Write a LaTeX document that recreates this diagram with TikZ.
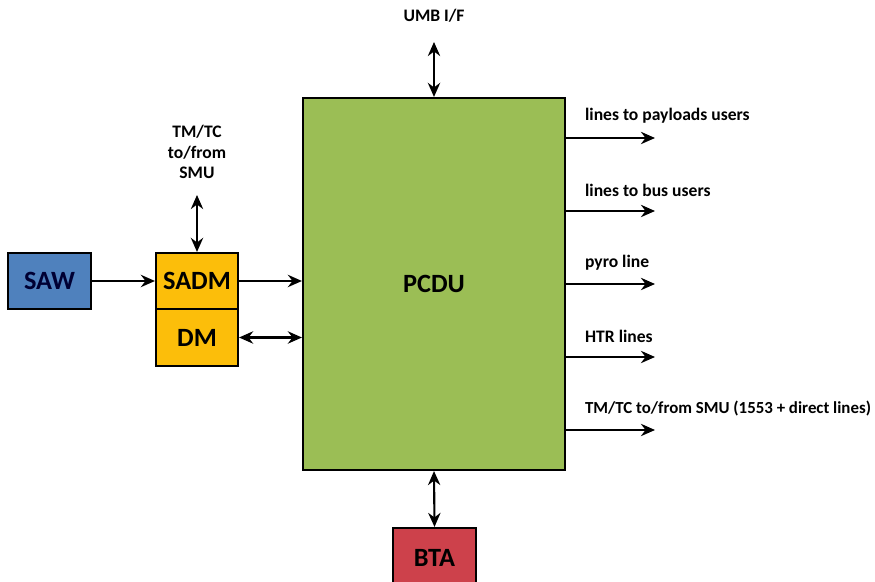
\documentclass[tikz,border=0pt]{standalone}
\usepackage{fontspec}
\setmainfont{Carlito}
\usepackage{xcolor}
\usepackage{tikz}
\usetikzlibrary{arrows.meta}
\definecolor{sawblue}{RGB}{79,129,189}
\definecolor{admorange}{RGB}{252,190,10}
\definecolor{pcdugreen}{RGB}{155,190,85}
\definecolor{btared}{RGB}{205,65,75}
\tikzset{
    block/.style={draw=black, line width=1.2pt, font=\fontsize{15}{17}\selectfont\bfseries, inner sep=0pt},
    lbl/.style={font=\fontsize{10}{11.5}\selectfont\bfseries, align=center, inner sep=1pt},
    conn/.style={line width=1.2pt, -{Stealth[length=8pt,width=7pt]}},
    biconn/.style={line width=1.2pt, {Stealth[length=8pt,width=7pt]}-{Stealth[length=8pt,width=7pt]}}
}
\begin{document}
\begin{tikzpicture}
            \useasboundingbox (0,0) rectangle (17.5,11.64);
            \clip (0,0) rectangle (17.5,11.64);
            % blocks
            \node[block, fill=sawblue, text=black!80!blue, minimum width=1.66cm, minimum height=1.12cm] (saw) at (0.99,6.02) {SAW};
            \node[block, fill=admorange, minimum width=1.64cm, minimum height=1.12cm] (sadm) at (3.94,6.02) {SADM};
            \node[block, fill=admorange, minimum width=1.64cm, minimum height=1.14cm] (dm) at (3.94,4.89) {DM};
            \node[block, fill=pcdugreen, minimum width=5.24cm, minimum height=7.44cm] (pcdu) at (8.68,5.96) {PCDU};
            \node[block, fill=btared, minimum width=1.66cm, minimum height=1.2cm] (bta) at (8.69,0.48) {BTA};
            % outer labels
            \node[lbl] (umb) at (8.68,11.32) {UMB I/F};
            \node[lbl] (smu) at (3.94,8.6) {TM/TC\\to/from\\SMU};
            \coordinate (umbend) at (8.68,10.8);
            \coordinate (smuend) at (3.94,7.74);
            % connectors
            \draw[conn] (saw.east) -- (sadm.west);
            \draw[conn] (sadm.east) -- (sadm.east -| pcdu.west);
            \draw[biconn] (dm.east) -- (dm.east -| pcdu.west);
            \draw[biconn] (smuend) -- (sadm.north);
            \draw[biconn] (umbend) -- (pcdu.north);
            \draw[biconn] (pcdu.south) -- (bta.north);
            % outputs
            \coordinate (out1) at (13.1,8.88);
            \coordinate (out2) at (13.1,7.42);
            \coordinate (out3) at (13.1,5.96);
            \coordinate (out4) at (13.1,4.50);
            \coordinate (out5) at (13.1,3.04);
            \draw[conn] (out1 -| pcdu.east) -- (out1);
            \draw[conn] (out2 -| pcdu.east) -- (out2);
            \draw[conn] (out3 -| pcdu.east) -- (out3);
            \draw[conn] (out4 -| pcdu.east) -- (out4);
            \draw[conn] (out5 -| pcdu.east) -- (out5);
            \node[lbl, anchor=west] (lpay) at (11.66,9.32) {lines to payloads users};
            \node[lbl, anchor=west] (lbus) at (11.66,7.84) {lines to bus users};
            \node[lbl, anchor=west] (lpyro) at (11.66,6.38) {pyro line};
            \node[lbl, anchor=west] (lhtr) at (11.66,4.92) {HTR lines};
            \node[lbl, anchor=west, font=\fontsize{9.6}{11}\selectfont\bfseries] (lsmu) at (11.66,3.46) {TM/TC to/from SMU (1553 + direct lines)};
        \end{tikzpicture}
\end{document}
